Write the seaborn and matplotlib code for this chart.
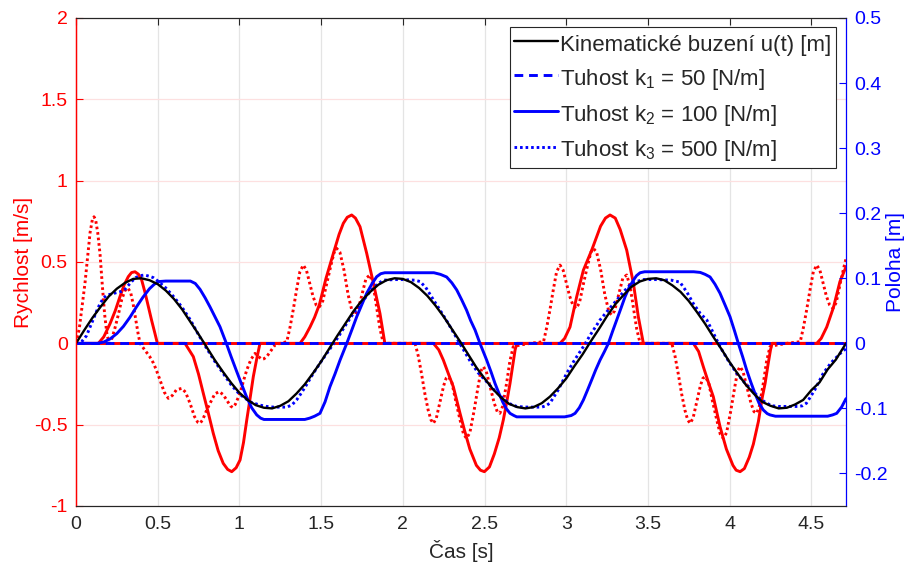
import matplotlib
matplotlib.use("Agg")
import matplotlib.pyplot as plt
import seaborn as sns

sns.set_theme(style="white")
plt.rcParams['font.family'] = ['Liberation Sans', 'DejaVu Sans']
plt.rcParams['mathtext.fontset'] = 'custom'
plt.rcParams['mathtext.rm'] = 'Liberation Sans'
plt.rcParams['mathtext.it'] = 'Liberation Sans:italic'

# ---------------- data ----------------
# kinematic excitation u(t) [m]  (right axis)
t_u = [0.0, 0.05, 0.1, 0.15, 0.2, 0.25, 0.3, 0.35, 0.4, 0.45, 0.5, 0.55, 0.6, 0.65, 0.7,
       0.75, 0.8, 0.85, 0.9, 0.95, 1.0, 1.05, 1.1, 1.15, 1.2, 1.25, 1.3, 1.35, 1.4, 1.45,
       1.5, 1.55, 1.6, 1.65, 1.7, 1.75, 1.8, 1.85, 1.9, 1.95, 2.0, 2.05, 2.1, 2.15, 2.2,
       2.25, 2.3, 2.35, 2.4, 2.45, 2.5, 2.55, 2.6, 2.65, 2.7, 2.75, 2.8, 2.85, 2.9, 2.95,
       3.0, 3.05, 3.1, 3.15, 3.2, 3.25, 3.3, 3.35, 3.4, 3.45, 3.5, 3.55, 3.6, 3.65, 3.7,
       3.75, 3.8, 3.85, 3.9, 3.95, 4.0, 4.05, 4.1, 4.15, 4.2, 4.25, 4.3, 4.35, 4.4, 4.45,
       4.5, 4.55, 4.6, 4.65, 4.712]
u = [0.0, 0.020, 0.039, 0.056, 0.072, 0.084, 0.093, 0.099, 0.1, 0.097, 0.091, 0.081, 0.068,
     0.052, 0.033, 0.014, -0.006, -0.026, -0.044, -0.061, -0.076, -0.087, -0.095, -0.099,
     -0.1, -0.096, -0.089, -0.077, -0.063, -0.046, -0.028, -0.008, 0.012, 0.031, 0.05,
     0.066, 0.079, 0.090, 0.097, 0.100, 0.099, 0.094, 0.085, 0.073, 0.058, 0.041, 0.022,
     0.003, -0.017, -0.037, -0.054, -0.070, -0.083, -0.093, -0.098, -0.100, -0.098, -0.092,
     -0.082, -0.069, -0.054, -0.035, -0.017, 0.003, 0.022, 0.042, 0.06, 0.074, 0.087,
     0.095, 0.099, 0.100, 0.097, 0.089, 0.079, 0.065, 0.048, 0.030, 0.01, -0.009, -0.029,
     -0.047, -0.064, -0.078, -0.09, -0.096, -0.1, -0.099, -0.094, -0.087, -0.072, -0.060,
     -0.04, -0.025, 0.0]

# k1 = 50 N/m : position (right) and velocity (left) stay at zero
t_k1 = [0.0, 1.0, 2.0, 3.0, 4.0, 4.712]
p_k1 = [0.0, 0.0, 0.0, 0.0, 0.0, 0.0]
v_k1 = [0.0, 0.0, 0.0, 0.0, 0.0, 0.0]

# k2 = 100 N/m : position [m] (right axis)
t_p2 = [0.0, 0.13, 0.17, 0.21, 0.25, 0.29, 0.33, 0.37, 0.41, 0.45, 0.48, 0.51, 0.55,
        0.70, 0.73, 0.759, 0.79, 0.82, 0.85, 0.881, 0.92, 0.95, 0.983, 1.015, 1.045, 1.075,
        1.106, 1.13, 1.15,
        1.40, 1.43, 1.46, 1.493, 1.524, 1.554, 1.585, 1.616, 1.657, 1.69, 1.718, 1.75, 1.779,
        1.81, 1.84, 1.865, 1.89,
        2.19, 2.23, 2.268, 2.30, 2.33, 2.36, 2.39, 2.415, 2.442, 2.472, 2.513, 2.54, 2.564,
        2.59, 2.615, 2.635, 2.656, 2.68, 2.697,
        2.99, 3.03, 3.054, 3.08, 3.105, 3.13, 3.156, 3.18, 3.207, 3.233, 3.258, 3.283, 3.309,
        3.335, 3.36, 3.385, 3.411, 3.43, 3.452, 3.48,
        3.78, 3.82, 3.85, 3.88, 3.91, 3.941, 3.97, 4.002, 4.03, 4.053, 4.08, 4.104, 4.13,
        4.155, 4.18, 4.206, 4.23, 4.247, 4.28,
        4.60, 4.63, 4.655, 4.685, 4.712]
p2 = [0.0, 0.0, 0.002, 0.007, 0.015, 0.026, 0.040, 0.056, 0.071, 0.084, 0.091, 0.095, 0.0957,
      0.0957, 0.092, 0.083, 0.070, 0.056, 0.041, 0.0255, 0.0, -0.021, -0.043, -0.064, -0.083,
      -0.099, -0.110, -0.115, -0.117,
      -0.117, -0.115, -0.112, -0.1076, -0.090, -0.0667, -0.047, -0.0257, 0.0, 0.022, 0.041,
      0.060, 0.077, 0.091, 0.1024, 0.107, 0.1085,
      0.1085, 0.106, 0.102, 0.093, 0.082, 0.067, 0.051, 0.035, 0.0205, 0.0, -0.0257, -0.044,
      -0.0615, -0.078, -0.092, -0.101, -0.1076, -0.111, -0.113,
      -0.113, -0.111, -0.1076, -0.099, -0.087, -0.072, -0.056, -0.041, -0.0257, -0.013, 0.0,
      0.018, 0.036, 0.054, 0.0716, 0.086, 0.097, 0.104, 0.1085, 0.110,
      0.110, 0.109, 0.106, 0.102, 0.091, 0.077, 0.060, 0.041, 0.019, 0.0, -0.021, -0.041,
      -0.060, -0.077, -0.092, -0.1025, -0.108, -0.110, -0.112,
      -0.112, -0.110, -0.1076, -0.098, -0.085]

# k2 = 100 N/m : velocity [m/s] (left axis)
t_v2 = [0.0, 0.137, 0.17, 0.208, 0.24, 0.269, 0.295, 0.32, 0.34, 0.361, 0.382, 0.402, 0.423,
        0.443, 0.463, 0.483, 0.498,
        0.667, 0.718, 0.75, 0.779, 0.81, 0.84, 0.87, 0.901, 0.928, 0.953, 0.98, 1.004, 1.025,
        1.045, 1.065, 1.085, 1.105, 1.126,
        1.371, 1.40, 1.432, 1.46, 1.49, 1.53, 1.575, 1.61, 1.636, 1.66, 1.687, 1.71, 1.738,
        1.779, 1.82, 1.86, 1.89,
        2.187, 2.22, 2.248, 2.28, 2.309, 2.35, 2.377, 2.41, 2.45, 2.475, 2.499, 2.53, 2.56,
        2.59, 2.615, 2.636, 2.656, 2.672, 2.687, 2.697,
        2.962, 2.99, 3.023, 3.064, 3.105, 3.156, 3.21, 3.24, 3.268, 3.30, 3.33, 3.37, 3.411,
        3.441, 3.472,
        3.778, 3.81, 3.839, 3.87, 3.90, 3.941, 3.98, 4.02, 4.04, 4.064, 4.09, 4.12, 4.145,
        4.176, 4.20, 4.217, 4.235, 4.25, 4.26,
        4.533, 4.56, 4.594, 4.635, 4.675, 4.712]
v2 = [0.0, 0.0, 0.04, 0.12, 0.2, 0.287, 0.36, 0.41, 0.435, 0.44, 0.425, 0.389, 0.31, 0.225,
      0.14, 0.061, 0.0,
      0.0, -0.082, -0.19, -0.307, -0.43, -0.553, -0.66, -0.738, -0.775, -0.789, -0.765,
      -0.717, -0.61, -0.471, -0.34, -0.205, -0.1, 0.0,
      0.0, 0.04, 0.10, 0.16, 0.24, 0.40, 0.553, 0.67, 0.738, 0.775, 0.789, 0.77, 0.717, 0.553,
      0.369, 0.184, 0.0,
      0.0, -0.04, -0.103, -0.19, -0.267, -0.43, -0.533, -0.65, -0.75, -0.78, -0.789, -0.76,
      -0.68, -0.58, -0.471, -0.36, -0.246, -0.14, -0.041, 0.0,
      0.0, 0.03, 0.10, 0.287, 0.45, 0.573, 0.72, 0.77, 0.789, 0.77, 0.70, 0.573, 0.369, 0.164,
      0.0,
      0.0, -0.05, -0.144, -0.24, -0.328, -0.512, -0.65, -0.75, -0.78, -0.789, -0.77, -0.70,
      -0.62, -0.48, -0.33, -0.246, -0.13, -0.04, 0.0,
      0.0, 0.03, 0.10, 0.22, 0.38, 0.47]

# k3 = 500 N/m : position [m] (right axis)
t_p3 = [0.0, 0.04, 0.065, 0.086, 0.106, 0.127, 0.147, 0.167, 0.188, 0.22, 0.249, 0.28, 0.30,
        0.32, 0.341, 0.365, 0.392, 0.42, 0.45, 0.473, 0.5, 0.55, 0.6, 0.65, 0.7, 0.75, 0.8,
        0.85, 0.9, 0.95, 1.0, 1.065, 1.126, 1.167, 1.207, 1.25, 1.29, 1.32, 1.35, 1.38, 1.41,
        1.45, 1.5, 1.55, 1.6, 1.65, 1.7, 1.75, 1.8, 1.84, 1.88, 1.95, 2.0, 2.075, 2.105, 2.14,
        2.187, 2.228, 2.27, 2.309, 2.36, 2.411, 2.46, 2.513, 2.56, 2.615, 2.656, 2.697, 2.75,
        2.85, 2.875, 2.90, 2.95, 3.003, 3.05, 3.105, 3.155, 3.207, 3.26, 3.309, 3.35, 3.39,
        3.43, 3.472, 3.55, 3.645, 3.696, 3.74, 3.778, 3.82, 3.86, 3.90, 3.941, 3.99, 4.043,
        4.09, 4.145, 4.19, 4.227, 4.26, 4.3, 4.37, 4.42, 4.445, 4.47, 4.52, 4.573, 4.62,
        4.675, 4.712]
p3 = [0.0, 0.004, 0.012, 0.025, 0.037, 0.050, 0.061, 0.069, 0.074, 0.076, 0.078, 0.080, 0.083,
      0.089, 0.095, 0.101, 0.104, 0.105, 0.103, 0.101, 0.096, 0.085, 0.071, 0.055, 0.036,
      0.013, -0.008, -0.028, -0.046, -0.064, -0.078, -0.090, -0.095, -0.097, -0.098, -0.098,
      -0.098, -0.095, -0.087, -0.076, -0.064, -0.047, -0.028, -0.010, 0.008, 0.028, 0.047,
      0.063, 0.080, 0.090, 0.097, 0.098, 0.098, 0.097, 0.095, 0.086, 0.067, 0.051, 0.034,
      0.017, -0.005, -0.027, -0.045, -0.059, -0.072, -0.085, -0.093, -0.097, -0.098, -0.098,
      -0.096, -0.092, -0.072, -0.046, -0.026, -0.005, 0.016, 0.036, 0.052, 0.0665, 0.079,
      0.0896, 0.095, 0.098, 0.098, 0.097, 0.094, 0.078, 0.061, 0.046, 0.036, 0.016, -0.005,
      -0.026, -0.046, -0.060, -0.074, -0.086, -0.092, -0.096, -0.097, -0.097, -0.097,
      -0.096, -0.092, -0.072, -0.046, -0.030, -0.016, -0.008]

# k3 = 500 N/m : velocity [m/s] (left axis)
t_v3 = [0.0, 0.02, 0.04, 0.055, 0.07, 0.086, 0.10, 0.11, 0.12, 0.133, 0.147, 0.16, 0.175,
        0.19, 0.205, 0.22, 0.24, 0.26, 0.28, 0.30, 0.318, 0.335, 0.35, 0.365, 0.38, 0.392,
        0.42, 0.45, 0.473, 0.49, 0.514, 0.54, 0.565, 0.59, 0.615, 0.647, 0.67, 0.698, 0.725,
        0.745, 0.759, 0.775, 0.80, 0.82, 0.85, 0.877, 0.90, 0.922, 0.945, 0.959, 0.975,
        1.004, 1.025, 1.045, 1.07, 1.095, 1.115, 1.136, 1.15, 1.167, 1.19, 1.218, 1.25, 1.29,
        1.31, 1.33, 1.35, 1.37, 1.391, 1.41, 1.43, 1.45, 1.47, 1.49, 1.51, 1.535, 1.56, 1.58,
        1.595, 1.615, 1.64, 1.665, 1.69, 1.707, 1.725, 1.75, 1.775, 1.799, 1.82, 1.84, 1.86,
        1.881, 1.98, 2.075,
        2.095, 2.115, 2.135, 2.155, 2.172, 2.187, 2.205, 2.225, 2.25, 2.265, 2.279, 2.30,
        2.325, 2.35, 2.372, 2.39, 2.41, 2.435, 2.46, 2.478, 2.492, 2.51, 2.535, 2.56, 2.578,
        2.594, 2.61, 2.636, 2.655, 2.676, 2.72, 2.78, 2.861,
        2.881, 2.901, 2.921, 2.941, 2.962, 2.981, 3.001, 3.021, 3.041, 3.061, 3.081, 3.106,
        3.131, 3.151, 3.166, 3.186, 3.211, 3.236, 3.261, 3.278, 3.296, 3.321, 3.346, 3.37,
        3.391, 3.411, 3.431, 3.452, 3.55, 3.646,
        3.666, 3.686, 3.706, 3.726, 3.743, 3.758, 3.776, 3.796, 3.821, 3.836, 3.85, 3.871,
        3.896, 3.921, 3.943, 3.961, 3.981, 4.006, 4.031, 4.049, 4.063, 4.081, 4.106, 4.131,
        4.149, 4.165, 4.181, 4.207, 4.226, 4.247, 4.291, 4.351, 4.432,
        4.452, 4.472, 4.492, 4.512, 4.533, 4.552, 4.572, 4.592, 4.612, 4.632, 4.652, 4.677,
        4.702, 4.712]
v3 = [0.0, 0.09, 0.25, 0.37, 0.52, 0.68, 0.76, 0.778, 0.76, 0.68, 0.55, 0.37, 0.18, 0.05,
      0.0, 0.03, 0.10, 0.18, 0.27, 0.325, 0.34, 0.31, 0.24, 0.15, 0.06, 0.0,
      -0.04, -0.08, -0.12, -0.16, -0.225, -0.30, -0.338, -0.32, -0.285, -0.277, -0.30,
      -0.369, -0.45, -0.485, -0.492, -0.47, -0.41, -0.369, -0.31, -0.297, -0.315, -0.348,
      -0.385, -0.394, -0.375, -0.307, -0.23, -0.164, -0.10, -0.062, -0.08, -0.098, -0.095,
      -0.082, -0.05, -0.01, 0.0, 0.01,
      0.10, 0.21, 0.33, 0.44, 0.481, 0.45, 0.37, 0.29, 0.235, 0.225, 0.26, 0.37, 0.48, 0.56,
      0.584, 0.56, 0.45, 0.30, 0.195, 0.174, 0.20, 0.30, 0.40, 0.42, 0.35, 0.22, 0.09,
      0.0, 0.0, 0.0,
      -0.08, -0.19, -0.31, -0.41, -0.47, -0.492, -0.46, -0.37, -0.26, -0.215, -0.205, -0.24,
      -0.36, -0.47, -0.56, -0.584, -0.55, -0.42, -0.27, -0.17, -0.144, -0.17, -0.27, -0.37,
      -0.42, -0.43, -0.39, -0.24, -0.11, -0.02, -0.01, 0.0, 0.01,
      0.10, 0.21, 0.33, 0.44, 0.481, 0.45, 0.37, 0.29, 0.235, 0.215, 0.25, 0.37, 0.48, 0.56,
      0.584, 0.56, 0.45, 0.30, 0.195, 0.174, 0.20, 0.30, 0.40, 0.42, 0.35, 0.22, 0.09, 0.0,
      0.0, 0.0,
      -0.08, -0.19, -0.31, -0.41, -0.47, -0.492, -0.46, -0.37, -0.26, -0.215, -0.205, -0.24,
      -0.36, -0.47, -0.56, -0.584, -0.55, -0.42, -0.27, -0.17, -0.144, -0.17, -0.27, -0.37,
      -0.42, -0.43, -0.39, -0.24, -0.11, -0.02, -0.01, 0.0, 0.01,
      0.10, 0.21, 0.33, 0.44, 0.481, 0.45, 0.37, 0.29, 0.235, 0.215, 0.25, 0.37, 0.48, 0.52]

x_ticks = [0, 0.5, 1, 1.5, 2, 2.5, 3, 3.5, 4, 4.5]
x_labels = ["0", "0.5", "1", "1.5", "2", "2.5", "3", "3.5", "4", "4.5"]
yl_ticks = [-1, -0.5, 0, 0.5, 1, 1.5, 2]
yl_labels = ["-1", "-0.5", "0", "0.5", "1", "1.5", "2"]
yr_ticks = [-0.2, -0.1, 0, 0.1, 0.2, 0.3, 0.4, 0.5]
yr_labels = ["-0.2", "-0.1", "0", "0.1", "0.2", "0.3", "0.4", "0.5"]

legend_labels = ["Kinematické buzení u(t) [m]",
                 "Tuhost k$_{\\mathrm{1}}$ = 50 [N/m]",
                 "Tuhost k$_{\\mathrm{2}}$ = 100 [N/m]",
                 "Tuhost k$_{\\mathrm{3}}$ = 500 [N/m]"]

# ---------------- figure ----------------
RED = (1.0, 0.0, 0.0)
BLUE = (0.0, 0.0, 1.0)
DARK = "#262626"
W, H = 917, 565
fig = plt.figure(figsize=(W / 100, H / 100), dpi=100)
ax = fig.add_axes([76 / W, 1 - 506 / H, 770 / W, 488 / H])
ax2 = ax.twinx()

LW = 2.1
dot_ls = (0, (0.9, 1.0))

# left axis: velocities
sns.lineplot(x=t_v2, y=v2, ax=ax, color=RED, linewidth=LW, sort=False, estimator=None)
sns.lineplot(x=t_v3, y=v3, ax=ax, color=RED, linewidth=LW, sort=False, estimator=None)
ax.lines[-1].set_linestyle(dot_ls)
sns.lineplot(x=t_k1, y=v_k1, ax=ax, color=RED, linewidth=LW, sort=False, estimator=None)
ax.lines[-1].set_linestyle((2.5, (3.0, 2.0)))

# right axis: positions
sns.lineplot(x=t_p2, y=p2, ax=ax2, color=BLUE, linewidth=LW, sort=False, estimator=None)
h_k2 = ax2.lines[-1]
sns.lineplot(x=t_p3, y=p3, ax=ax2, color=BLUE, linewidth=LW, sort=False, estimator=None)
h_k3 = ax2.lines[-1]
h_k3.set_linestyle(dot_ls)
sns.lineplot(x=t_k1, y=p_k1, ax=ax2, color=BLUE, linewidth=LW, sort=False, estimator=None)
h_k1 = ax2.lines[-1]
h_k1.set_linestyle((0, (3.0, 2.0)))
sns.lineplot(x=t_u, y=u, ax=ax2, color="black", linewidth=1.7, sort=False, estimator=None)
h_u = ax2.lines[-1]

# limits and ticks
ax.set_xlim(0, 4.712)
ax.set_ylim(-1, 2)
ax2.set_ylim(-0.25, 0.5)
ax.set_xticks(x_ticks)
ax.set_xticklabels(x_labels)
ax.set_yticks(yl_ticks)
ax.set_yticklabels(yl_labels)
ax2.set_yticks(yr_ticks)
ax2.set_yticklabels(yr_labels)

FS = 14
ax.tick_params(axis="x", direction="in", length=5, width=0.8, colors=DARK,
               labelsize=FS, top=True, pad=7)
ax.tick_params(axis="y", direction="in", length=5, width=0.8, colors=RED,
               labelsize=FS, pad=6)
ax2.tick_params(axis="y", direction="in", length=5, width=0.8, colors=BLUE,
                labelsize=FS, pad=6)

# grid
ax.grid(axis="x", color="#e4e4e4", linewidth=0.9)
ax.grid(axis="y", color="#fde0e0", linewidth=0.9)
ax.set_axisbelow(True)

# spines
for a in (ax, ax2):
    a.spines["top"].set_color(DARK)
    a.spines["bottom"].set_color(DARK)
    a.spines["top"].set_linewidth(0.8)
    a.spines["bottom"].set_linewidth(0.8)
ax.spines["left"].set_color(RED)
ax2.spines["left"].set_color(RED)
ax.spines["right"].set_visible(False)
ax2.spines["right"].set_color(BLUE)
for a in (ax, ax2):
    a.spines["left"].set_linewidth(0.9)
    a.spines["right"].set_linewidth(0.9)

# labels
ax.set_xlabel("Čas [s]", fontsize=15, color=DARK)
ax.set_ylabel("Rychlost [m/s]", fontsize=15, color=RED)
ax2.set_ylabel("Poloha [m]", fontsize=15, color=BLUE)
ax.xaxis.set_label_coords(0.5, -0.070)
ax.yaxis.set_label_coords(-0.056, 0.5)
ax2.yaxis.set_label_coords(1.052, 0.5)

# legend
leg = ax2.legend([h_u, h_k1, h_k2, h_k3], legend_labels, loc="upper right",
                 bbox_to_anchor=(0.987, 0.982), borderaxespad=0, fontsize=16,
                 frameon=True, fancybox=False, framealpha=1, edgecolor=DARK,
                 handlelength=1.95, handletextpad=0.12, borderpad=0.2,
                 labelspacing=0.42, handleheight=1.3)
leg.get_frame().set_linewidth(0.8)

fig.savefig("out.png", dpi=100, facecolor="white")
